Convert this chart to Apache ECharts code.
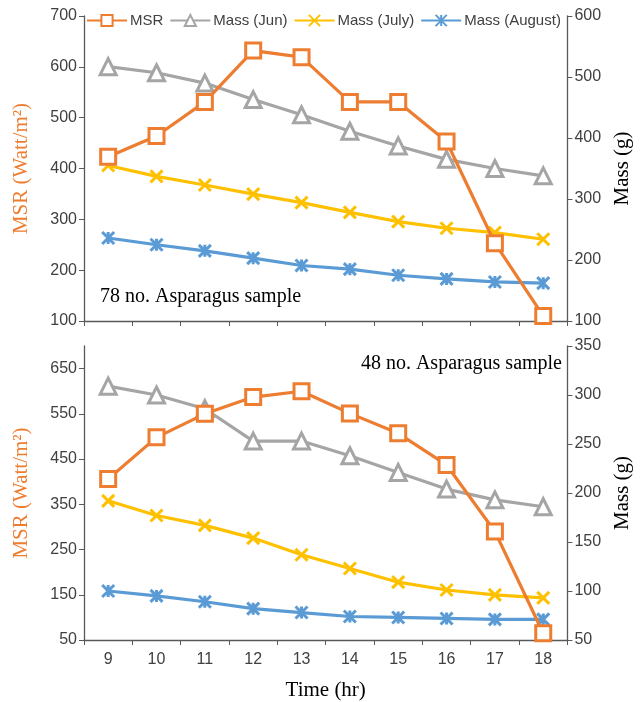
<!DOCTYPE html>
<html>
<head>
<meta charset="utf-8">
<script src="https://cdn.jsdelivr.net/npm/echarts@6/dist/echarts.min.js"></script>
<style>
  html, body { margin: 0; padding: 0; background: #fff; }
  #chart { width: 641px; height: 702px; }
</style>
</head>
<body>
<div id="chart"></div>
<script>
// time of day (hr)
const hours = ['9', '10', '11', '12', '13', '14', '15', '16', '17', '18']

// 78 no. sample (top panel)
const msr78 = [423, 464, 531, 632, 619, 531, 531, 453, 253, 110]
const jun78 = [517, 507, 490, 463, 438, 411, 387, 365, 350, 338]
const july78 = [355, 337, 323, 308, 294, 278, 263, 252, 245, 234]
const aug78 = [236, 225, 215, 203, 191, 185, 175, 169, 164, 162]

// 48 no. sample (bottom panel)
const msr48 = [406, 498, 550, 587, 600, 551, 507, 437, 290, 65]
const jun48 = [309, 300, 286, 253, 253, 238, 221, 204, 193, 186]
const july48 = [192, 177, 167, 154, 137, 123, 109, 101, 96, 93]
const aug48 = [100, 95, 89, 82, 78, 74, 73, 72, 71, 71]

const seriesNames = ['MSR', 'Mass (Jun)', 'Mass (July)', 'Mass (August)']

const ORANGE = '#ED7D31'
const GRAY = '#A5A5A5'
const YELLOW = '#FFC000'
const BLUE = '#5B9BD5'
const AXIS = '#595959'
const TEXT = '#404040'
const SANS = 'Liberation Sans, Arial, sans-serif'
const SERIF = 'Liberation Serif, Times New Roman, serif'

const xMark = 'path://M0,0L10,10M10,0L0,10'
const starMark = 'path://M0,0L10,10M10,0L0,10M5,0L5,10'

let chart = echarts.init(document.getElementById('chart'))

function valueAxis(gridIndex, position, min, max, interval, showMax, name, nameColor) {
  return {
    type: 'value',
    gridIndex: gridIndex,
    position: position,
    min: min,
    max: max,
    interval: interval,
    splitLine: { show: false },
    axisLine: { show: true, lineStyle: { color: AXIS, width: 1.3 } },
    axisTick: { show: true, length: 5, lineStyle: { color: AXIS } },
    axisLabel: { color: TEXT, fontSize: 16, fontFamily: SANS, margin: 7, showMaxLabel: showMax },
    name: name,
    nameLocation: 'middle',
    nameRotate: 90,
    nameGap: position === 'left' ? 52 : 44,
    nameTextStyle: { color: nameColor, fontSize: 21, fontFamily: SERIF }
  }
}

function catAxis(gridIndex, showLabels) {
  return {
    type: 'category',
    gridIndex: gridIndex,
    data: hours,
    boundaryGap: true,
    axisLine: { show: true, lineStyle: { color: AXIS, width: 1.3 } },
    axisTick: { show: true, length: 5, lineStyle: { color: AXIS } },
    axisLabel: { show: showLabels, color: TEXT, fontSize: 16, fontFamily: SANS, margin: 12 },
    name: showLabels ? 'Time (hr)' : '',
    nameLocation: 'middle',
    nameGap: 40,
    nameTextStyle: { color: '#000', fontSize: 21, fontFamily: SERIF }
  }
}

function lineSeries(name, data, xi, yi, color, symbol, size, fillWhite) {
  return {
    name: name,
    type: 'line',
    xAxisIndex: xi,
    yAxisIndex: yi,
    data: data,
    symbol: symbol,
    symbolSize: size,
    showAllSymbol: true,
    lineStyle: { color: color, width: 3.2 },
    itemStyle: { color: fillWhite ? '#fff' : color, borderColor: color, borderWidth: 3 },
    z: name === 'MSR' ? 5 : 3
  }
}

let option = {
  animation: false,
  backgroundColor: '#fff',
  grid: [
    { left: 84, right: 73, top: 16, height: 305 },
    { left: 84, right: 73, top: 346, height: 295 }
  ],
  legend: {
    left: 81,
    top: 8,
    itemWidth: 40,
    itemHeight: 14,
    itemGap: 6,
    data: seriesNames,
    textStyle: { color: TEXT, fontSize: 15, fontFamily: SANS, padding: [0, 0, 0, -2] }
  },
  xAxis: [catAxis(0, false), catAxis(1, true)],
  yAxis: [
    valueAxis(0, 'left', 100, 700, 100, true, 'MSR (Watt/m\u00b2)', ORANGE),
    valueAxis(0, 'right', 100, 600, 100, true, 'Mass (g)', '#000'),
    valueAxis(1, 'left', 50, 700, 100, false, 'MSR (Watt/m\u00b2)', ORANGE),
    valueAxis(1, 'right', 50, 350, 50, true, 'Mass (g)', '#000')
  ],
  series: [
    lineSeries('MSR', msr78, 0, 0, ORANGE, 'rect', 15, true),
    lineSeries('Mass (Jun)', jun78, 0, 1, GRAY, 'triangle', 16, true),
    lineSeries('Mass (July)', july78, 0, 1, YELLOW, xMark, 12, false),
    lineSeries('Mass (August)', aug78, 0, 1, BLUE, starMark, 12, false),
    lineSeries('MSR', msr48, 1, 2, ORANGE, 'rect', 15, true),
    lineSeries('Mass (Jun)', jun48, 1, 3, GRAY, 'triangle', 16, true),
    lineSeries('Mass (July)', july48, 1, 3, YELLOW, xMark, 12, false),
    lineSeries('Mass (August)', aug48, 1, 3, BLUE, starMark, 12, false)
  ],
  graphic: [
    {
      type: 'text', left: 100, top: 287,
      style: { text: '78 no. Asparagus sample', fill: '#000', font: '20px ' + SERIF }
    },
    {
      type: 'text', right: 79, top: 354,
      style: { text: '48 no. Asparagus sample', fill: '#000', font: '20px ' + SERIF }
    }
  ]
}

chart.setOption(option)
</script>
</body>
</html>
